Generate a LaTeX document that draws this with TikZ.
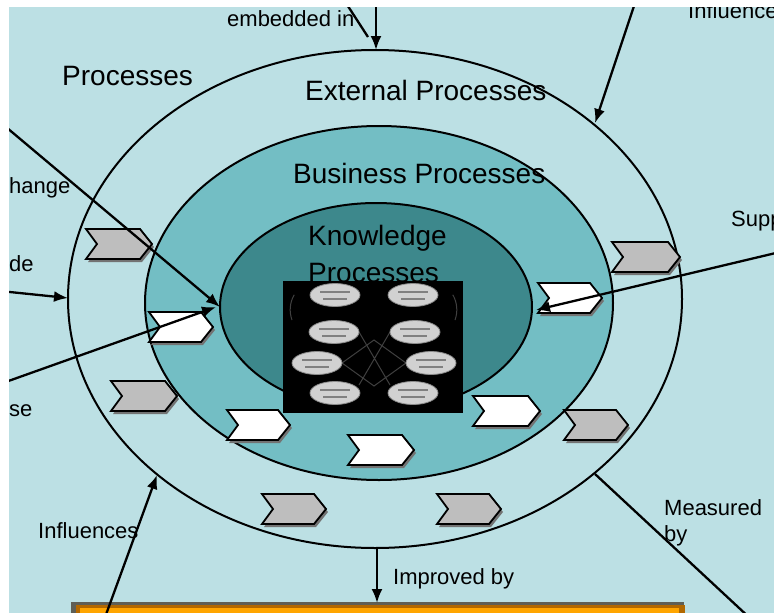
\documentclass[tikz,border=0pt]{standalone}
\usepackage{fontspec}
\setmainfont{Liberation Sans}
\usetikzlibrary{arrows.meta}
\definecolor{bgc}{RGB}{188,224,228}
\definecolor{bizc}{RGB}{115,190,196}
\definecolor{knowc}{RGB}{61,136,140}
\definecolor{chevgray}{RGB}{190,190,190}
\definecolor{orfill}{RGB}{255,165,0}
\definecolor{ordark}{RGB}{178,104,0}
\definecolor{barshadow}{RGB}{95,95,85}
\tikzset{
 ell/.style={draw=black, line width=2pt},
 conn/.style={draw=black, line width=2.3pt},
 arr/.style={conn, -{Latex[length=14pt,width=11pt]}},
 biglbl/.style={font=\fontsize{28}{30}\selectfont, inner sep=0pt, anchor=base west, text=black},
 lbl/.style={font=\fontsize{22}{24}\selectfont, inner sep=0pt, anchor=base west, text=black},
 chevG/.style={fill=chevgray, draw=black, line width=1.8pt},
 chevW/.style={fill=white, draw=black, line width=1.8pt},
 chevsh/.style={fill=black!55},
 miniell/.style={fill=black!18, draw=black!45, line width=0.8pt},
 minitxt/.style={draw=black!50, line width=1.6pt},
 faint/.style={draw=black!75, line width=1pt},
}
\newcommand\mychev[4]{%
\begin{scope}[shift={(#1,#2)}]
\fill[chevsh] (2,3) -- ++(#4-12,0) -- ++(12,15) -- ++(-12,15) -- ++(-#4+12,0) -- ++(11,-15) -- cycle;
\draw[#3] (0,0) -- ++(#4-12,0) -- ++(12,15) -- ++(-12,15) -- ++(-#4+12,0) -- ++(11,-15) -- cycle;
\end{scope}}
\newcommand\myminiell[2]{%
\fill[miniell] (#1,#2) ellipse [x radius=25pt, y radius=11.5pt];
\draw[minitxt] (#1-15,#2-3) -- (#1+15,#2-3);
\draw[minitxt] (#1-12,#2+4) -- (#1+12,#2+4);}
\begin{document}
\begin{tikzpicture}[x=1pt,y=-1pt]
\useasboundingbox (0,0) rectangle (774,613);
\fill[white] (0,0) rectangle (774,613);
\begin{scope}
\clip (9,7) rectangle (774,613);
\fill[bgc] (9,7) rectangle (774,613);
% ellipses
\draw[ell] (375,299) ellipse [x radius=307pt, y radius=249pt];
\filldraw[ell, fill=bizc] (379,303) ellipse [x radius=234pt, y radius=177pt];
\filldraw[ell, fill=knowc] (376,307) ellipse [x radius=156pt, y radius=104pt];
% labels
\node[biglbl] (tproc) at (62,85) {Processes};
\node[biglbl] (text) at (305,100) {External Processes};
\node[biglbl] (tbiz) at (293,183) {Business Processes};
\node[biglbl] (tknow1) at (308,245) {Knowledge};
\node[biglbl] (tknow2) at (308,282) {Processes};
\node[lbl] (lemb) at (227,27) {embedded in};
\node[lbl] (linfl1) at (688,19) {Influences};
\node[lbl] (lexch) at (9,193) {hange};
\node[lbl] (lprov) at (9,271) {de};
\node[lbl] (luse) at (9,416) {se};
\node[lbl] (lsupp) at (731,226) {Supp};
\node[lbl] (linfl2) at (38,538) {Influences};
\node[lbl] (lmeas1) at (664,515) {Measured};
\node[lbl] (lmeas2) at (664,541) {by};
\node[lbl] (limpr) at (393,584) {Improved by};
% chevrons
\mychev{86}{229}{chevG}{66}
\mychev{111}{381}{chevG}{66}
\mychev{612}{242}{chevG}{68}
\mychev{564}{410}{chevG}{64}
\mychev{262}{494}{chevG}{64}
\mychev{437}{494}{chevG}{64}
\mychev{149}{312}{chevW}{64}
\mychev{227}{410}{chevW}{63}
\mychev{348}{435}{chevW}{66}
\mychev{473}{396}{chevW}{67}
\mychev{538}{283}{chevW}{64}
% knowledge map picture
\fill[black] (283,281) rectangle (463,413);
\node[inner sep=0pt, minimum width=180pt, minimum height=132pt] (kimg) at (373,347) {};
\draw[faint] (359,332) -- (390,385) (390,332) -- (359,385) (342,363) -- (374,340) -- (406,363) -- (374,386) -- cycle;
\draw[faint] (292,320) arc[start angle=200, end angle=150, radius=30pt];
\draw[faint] (455,320) arc[start angle=-20, end angle=30, radius=30pt];
\myminiell{335}{295}
\myminiell{413}{295}
\myminiell{334}{332}
\myminiell{415}{332}
\myminiell{317}{363}
\myminiell{431}{363}
\myminiell{335}{393}
\myminiell{413}{393}
% orange bar
\fill[barshadow] (71,602) rectangle (684,620);
\fill[ordark] (76,605) rectangle (685,620);
\fill[orfill] (80,608) rectangle (679,620);
\node[inner sep=0pt, minimum width=605pt, minimum height=11pt] (bar) at (380,608) {};
% connector end points
\coordinate (embA) at (376,0);
\coordinate (embB) at (376,50);
\coordinate (embC) at (344,0);
\coordinate (embD) at (368,37);
\coordinate (infA) at (636,0);
\coordinate (infB) at (595,123);
\coordinate (exA) at (0,122);
\coordinate (exB) at (220,307);
\coordinate (prA) at (0,291);
\coordinate (prB) at (68,298);
\coordinate (usA) at (0,384);
\coordinate (usB) at (216,307);
\coordinate (suA) at (780,252);
\coordinate (suB) at (536,310);
\coordinate (ibA) at (104,620);
\coordinate (ibB) at (157,475);
\coordinate (meA) at (595,474);
\coordinate (meB) at (752,620);
\coordinate (imA) at (377,548);
\coordinate (imB) at (377,603);
% connectors
\draw[arr] (embA) -- (embB);
\draw[conn] (embC) -- (embD);
\draw[arr] (infA) -- (infB);
\draw[arr] (exA) -- (exB);
\draw[arr] (prA) -- (prB);
\draw[arr] (usA) -- (usB);
\draw[arr] (suA) -- (suB);
\draw[arr] (ibA) -- (ibB);
\draw[conn] (meA) -- (meB);
\draw[arr] (imA) -- (imB);
\end{scope}
\end{tikzpicture}
\end{document}
